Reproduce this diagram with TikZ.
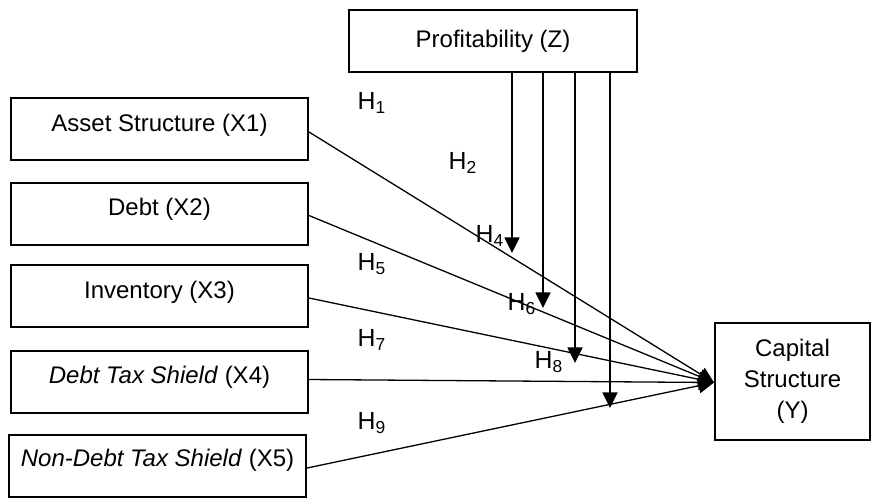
\documentclass[tikz,border=0pt]{standalone}
\usepackage{fontspec}
\setmainfont{Liberation Sans}
\usetikzlibrary{arrows.meta}
\newcommand{\liftby}[2]{\raisebox{#1}[\height][\depth]{#2}}
\begin{document}
\begin{tikzpicture}[x=0.5pt,y=-0.5pt,
 txt/.style={font=\fontsize{12}{15.5}\selectfont},
 box/.style={draw,line width=1pt,minimum width=148.5pt,minimum height=31pt,inner sep=0pt,txt},
 arr/.style={-{Triangle[length=7.8pt,width=7.5pt]},line width=0.65pt},
 hlab/.style={font=\fontsize{12.4}{15}\selectfont,inner sep=0pt}]
\useasboundingbox (0,0) rectangle (872,500);
% boxes
\node[box,minimum width=144pt] (P) at (493,41) {Profitability (Z)};
\node[box] (X1) at (159.5,129) {\liftby{2pt}{Asset Structure (X1)}};
\node[box] (X2) at (159.5,213.5) {\liftby{2pt}{Debt (X2)}};
\node[box] (X3) at (159.5,296) {\liftby{2pt}{Inventory (X3)}};
\node[box] (X4) at (159.5,381.5) {\liftby{2pt}{\textit{Debt Tax Shield} (X4)}};
\node[box] (X5) at (157.5,466) {\liftby{3pt}{\textit{Non-Debt Tax Shield} (X5)}};
\node[box,minimum width=77.5pt,minimum height=58.5pt,align=center] (Y) at (792.5,381.5) {Capital\\Structure\\(Y)};
% direct paths
\draw[arr] ([yshift=-1.5pt]X1.east) -- ([yshift=-0.5pt]Y.west);
\draw[arr] ([yshift=-1pt]X2.east) -- ([yshift=-0.5pt]Y.west);
\draw[arr] ([yshift=-1pt]X3.east) -- ([yshift=-0.5pt]Y.west);
\draw[arr] ([yshift=1pt]X4.east) -- ([yshift=-0.5pt]Y.west);
\draw[arr] ([yshift=-1pt]X5.east) -- ([yshift=-0.5pt]Y.west);
% moderation arrows
\coordinate (t1) at (512,253);
\coordinate (t2) at (543,308);
\coordinate (t3) at (575,363);
\coordinate (t4) at (610,408);
\draw[arr] (t1 |- P.south) -- (t1);
\draw[arr] (t2 |- P.south) -- (t2);
\draw[arr] (t3 |- P.south) -- (t3);
\draw[arr] (t4 |- P.south) -- (t4);
% labels
\node[hlab] (h1) at (372,103) {H\textsubscript{1}};
\node[hlab] (h2) at (463,163) {H\textsubscript{2}};
\node[hlab] (h4) at (490,236) {H\textsubscript{4}};
\node[hlab] (h5) at (372,264) {H\textsubscript{5}};
\node[hlab] (h6) at (522,304) {H\textsubscript{6}};
\node[hlab] (h7) at (372,340) {H\textsubscript{7}};
\node[hlab] (h8) at (549,362) {H\textsubscript{8}};
\node[hlab] (h9) at (372,423) {H\textsubscript{9}};
\end{tikzpicture}
\end{document}
